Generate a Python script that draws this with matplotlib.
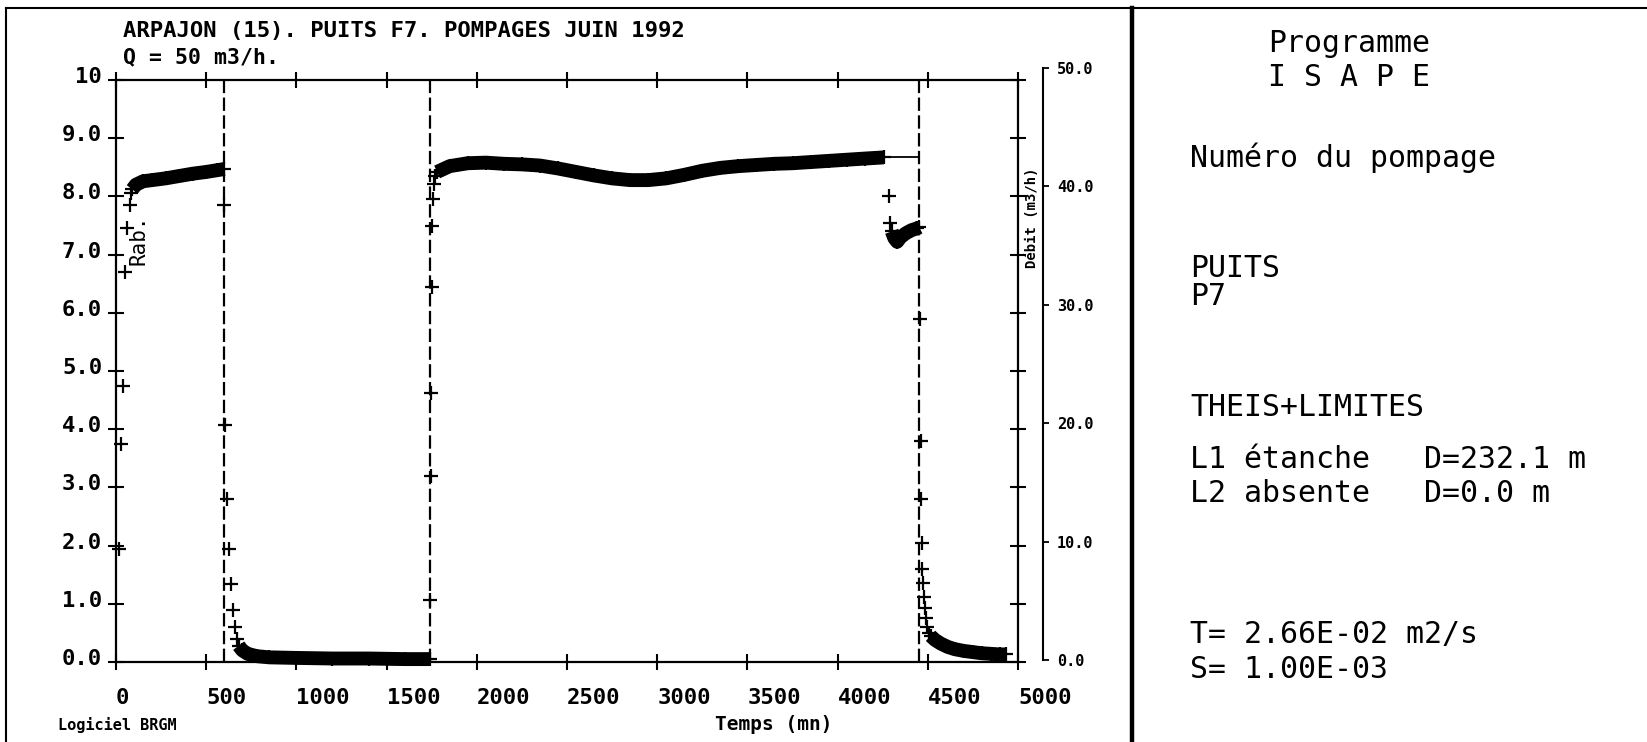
import matplotlib
matplotlib.use('Agg')
import matplotlib.pyplot as plt
from matplotlib.lines import Line2D
from matplotlib import transforms

# Rabattements (m) en fonction du temps (mn), lus sur le graphique
# pompage 1 : premiers points isolés puis nuage dense
t_p1 = [15, 28, 39, 50, 61, 78, 85]
s_p1 = [1.95, 3.75, 4.75, 6.7, 7.45, 7.85, 8.05]
t_p1_nuage = [90, 110, 150, 200, 275, 350, 425, 500, 560, 600]
s_p1_nuage = [8.12, 8.2, 8.26, 8.28, 8.31, 8.35, 8.39, 8.42, 8.45, 8.47]

# remontée 1
t_r1 = [601, 603, 615, 625, 638, 648, 660, 670]
s_r1 = [7.85, 4.08, 2.8, 1.95, 1.34, 0.9, 0.6, 0.4]
t_r1_nuage = [680, 700, 730, 780, 850, 1000, 1200, 1400, 1600, 1740]
s_r1_nuage = [0.28, 0.2, 0.14, 0.1, 0.08, 0.07, 0.06, 0.06, 0.05, 0.05]

# pompage 2
t_p2 = [1742, 1744, 1747, 1750, 1754, 1758, 1762, 1768]
s_p2 = [1.07, 3.19, 4.62, 6.45, 7.5, 7.95, 8.22, 8.35]
t_p2_nuage = [1780, 1850, 1950, 2050, 2150, 2250, 2350, 2450, 2550, 2650,
              2750, 2850, 2950, 3050, 3150, 3250, 3350, 3450, 3550, 3650,
              3750, 3850, 3950, 4050, 4150, 4255]
s_p2_nuage = [8.42, 8.52, 8.57, 8.58, 8.56, 8.55, 8.53, 8.48, 8.42, 8.36,
              8.31, 8.28, 8.28, 8.31, 8.37, 8.44, 8.49, 8.52, 8.54, 8.56,
              8.57, 8.59, 8.61, 8.63, 8.65, 8.67]
t_liaison = [4255, 4450]
s_liaison = [8.68, 8.68]
t_p2_fin = [4285, 4292]
s_p2_fin = [8.0, 7.55]
t_p2_fin_nuage = [4300, 4315, 4330, 4350, 4380, 4410, 4440, 4452]
s_p2_fin_nuage = [7.4, 7.28, 7.22, 7.3, 7.37, 7.42, 7.45, 7.47]

# remontée 2
t_r2 = [4457, 4460, 4463, 4466, 4470, 4474, 4478, 4484, 4490, 4497, 4505]
s_r2 = [5.9, 3.8, 2.8, 2.05, 1.6, 1.35, 1.12, 0.92, 0.75, 0.6, 0.5]
t_r2_nuage = [4515, 4540, 4570, 4610, 4650, 4700, 4750, 4800, 4850, 4900, 4935]
s_r2_nuage = [0.45, 0.38, 0.32, 0.26, 0.22, 0.19, 0.17, 0.15, 0.14, 0.13, 0.13]

# changements de débit
t_arret = [600, 1740, 4450]

x_ticks = [0, 500, 1000, 1500, 2000, 2500, 3000, 3500, 4000, 4500, 5000]
x_labels = ['0', '500', '1000', '1500', '2000', '2500', '3000', '3500', '4000', '4500', '5000']
y_ticks = [0, 1, 2, 3, 4, 5, 6, 7, 8, 9, 10]
y_labels = ['0.0', '1.0', '2.0', '3.0', '4.0', '5.0', '6.0', '7.0', '8.0', '9.0', '10']
q_ticks = [0, 10, 20, 30, 40, 50]
q_labels = ['0.0', '10.0', '20.0', '30.0', '40.0', '50.0']

W, H = 1647, 742
MONO = 'DejaVu Sans Mono'


def fx(px):
    return px / W


def fy(py):
    return 1 - py / H


fig = plt.figure(figsize=(W / 100, H / 100), dpi=100)

ax = fig.add_axes([fx(116), fy(662), (1018 - 116) / W, (662 - 80) / H])
ax.set_xlim(0, 5000)
ax.set_ylim(0, 10)

# nuages de points (très denses -> bande épaisse)
for t, s in [(t_p1_nuage, s_p1_nuage), (t_r1_nuage, s_r1_nuage),
             (t_p2_nuage, s_p2_nuage), (t_p2_fin_nuage, s_p2_fin_nuage),
             (t_r2_nuage, s_r2_nuage)]:
    ax.plot(t, s, '-', color='black', lw=10, solid_capstyle='butt',
            solid_joinstyle='round', clip_on=False)
    ax.plot(t, s, '+', color='black', ms=10, mew=1.6, clip_on=False)

# points isolés
for t, s in [(t_p1, s_p1), (t_r1, s_r1), (t_p2, s_p2), (t_p2_fin, s_p2_fin), (t_r2, s_r2)]:
    ax.plot(t, s, '+', color='black', ms=10, mew=1.6, clip_on=False)

ax.plot(t_liaison, s_liaison, '-', color='black', lw=1.3)

for t in t_arret:
    ax.axvline(t, color='black', lw=1.6, dashes=(6, 2))

for sp in ax.spines.values():
    sp.set_linewidth(1.6)

ax.set_xticks(x_ticks)
ax.set_xticklabels(x_labels, fontfamily=MONO, fontweight='bold', fontsize=16, ha='left')
ax.set_yticks(y_ticks)
ax.set_yticklabels(y_labels, fontfamily=MONO, fontweight='bold', fontsize=16)
ax.tick_params(axis='x', direction='inout', length=12, width=1.5, top=True, pad=13)
ax.tick_params(axis='y', direction='inout', length=12, width=1.5, right=True, pad=4)

decal = transforms.ScaledTranslation(0, 5 / 100, fig.dpi_scale_trans)
for lab in ax.get_yticklabels():
    lab.set_transform(lab.get_transform() + decal)

fig.text(fx(139), fy(240), 'Rab.', rotation=90, fontfamily=MONO, fontsize=15,
         ha='center', va='center')

# axe des débits
axq = fig.add_axes([fx(1043), fy(660), 0.0001, (660 - 68) / H])
axq.set_ylim(0, 50)
axq.set_xticks([])
for nom in ['top', 'bottom', 'right']:
    axq.spines[nom].set_visible(False)
axq.spines['left'].set_linewidth(1.5)
axq.patch.set_visible(False)
axq.yaxis.tick_right()
axq.set_yticks(q_ticks)
axq.set_yticklabels(q_labels, fontfamily=MONO, fontweight='bold', fontsize=11)
axq.tick_params(axis='y', direction='out', length=4, width=1.3, pad=6)
fig.text(fx(1032), fy(218), 'Débit (m3/h)', rotation=90, fontfamily=MONO,
         fontsize=10, fontweight='bold', ha='center', va='center')

# textes du graphique
fig.text(fx(123), fy(31), 'ARPAJON (15). PUITS F7. POMPAGES JUIN 1992',
         fontfamily=MONO, fontweight='bold', fontsize=16, ha='left', va='center')
fig.text(fx(123), fy(57), 'Q = 50 m3/h.', fontfamily=MONO, fontweight='bold',
         fontsize=15.5, ha='left', va='center')
fig.text(fx(58), fy(725), 'Logiciel BRGM', fontfamily=MONO, fontweight='bold',
         fontsize=11, ha='left', va='center')
fig.text(fx(715), fy(724), 'Temps (mn)', fontfamily=MONO, fontweight='bold',
         fontsize=14, ha='left', va='center')

# cadre
fig.add_artist(Line2D([fx(6), fx(6)], [fy(8), fy(742)], color='black', lw=1.5,
                      transform=fig.transFigure))
fig.add_artist(Line2D([fx(6), 1], [fy(8), fy(8)], color='black', lw=1.5,
                      transform=fig.transFigure))
fig.add_artist(Line2D([fx(1132), fx(1132)], [fy(8), fy(742)], color='black', lw=3.2,
                      transform=fig.transFigure))

# panneau de droite
panneau = [
    (1268, 44, 'Programme'),
    (1268, 77, 'I S A P E'),
    (1190, 158, 'Numéro du pompage'),
    (1190, 268, 'PUITS'),
    (1190, 296, 'P7'),
    (1190, 408, 'THEIS+LIMITES'),
    (1190, 460, 'L1 étanche   D=232.1 m'),
    (1190, 494, 'L2 absente   D=0.0 m'),
    (1190, 634, 'T= 2.66E-02 m2/s'),
    (1190, 669, 'S= 1.00E-03'),
]
for x, y, txt in panneau:
    fig.text(fx(x), fy(y), txt, fontfamily=MONO, fontsize=21.5, ha='left', va='center')

fig.savefig('out.png', dpi=100)
